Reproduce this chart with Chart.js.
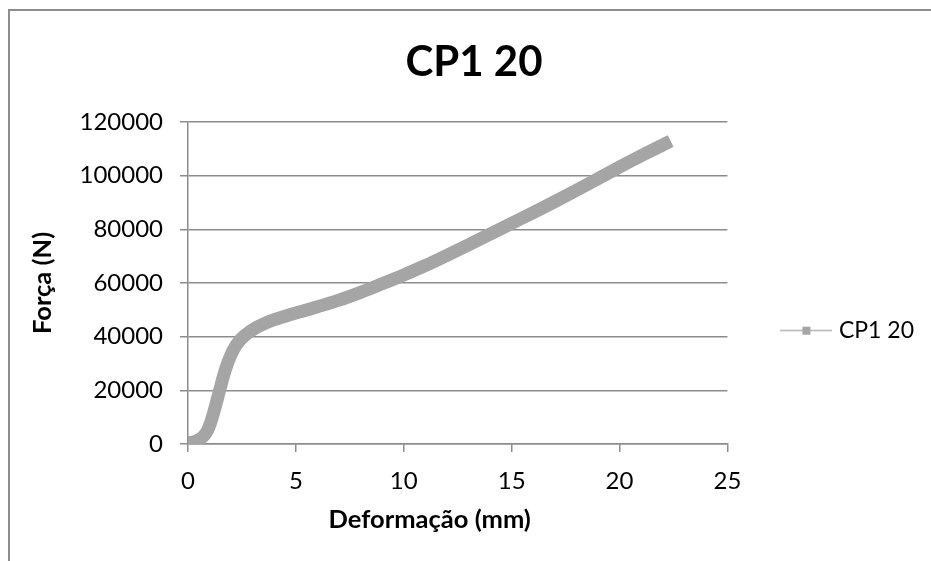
<!DOCTYPE html>
<html>
<head>
<meta charset="utf-8">
<script src="https://cdn.jsdelivr.net/npm/chart.js@4/dist/chart.umd.min.js"></script>
<style>
  html, body { margin: 0; padding: 0; background: #fff; }
  #wrap { width: 931px; height: 561px; position: relative; }
</style>
</head>
<body>
<div id="wrap"><canvas id="grafico" width="931" height="561"></canvas></div>
<script>
// Ensaio CP1 20: força aplicada em função da deformação
const serieNome = 'CP1 20';
const deformacao = [0, 0.15, 0.3, 0.45, 0.6, 0.75, 0.9, 1.05, 1.2, 1.35, 1.5, 1.65, 1.8, 1.95, 2.1, 2.25, 2.4, 2.6, 2.8, 3.0, 3.3, 3.6, 4.0, 4.5, 5.0, 5.5, 6.0, 7.0, 8.0, 9.0, 10.0, 11.0, 12.0, 13.0, 14.0, 15.0, 16.0, 17.0, 18.0, 19.0, 20.0, 21.0, 22.1];
const forca = [400, 600, 900, 1400, 2100, 3200, 5000, 8000, 12000, 16500, 21000, 25500, 29300, 32400, 35000, 37000, 38600, 40200, 41500, 42600, 44000, 45100, 46300, 47600, 48800, 49900, 51100, 53600, 56500, 59700, 63000, 66500, 70300, 74200, 78200, 82200, 86200, 90300, 94500, 98800, 103200, 107400, 111800];
const xTicks = [0, 5, 10, 15, 20, 25];
const yTicks = [0, 20000, 40000, 60000, 80000, 100000, 120000];

const corGrade = '#8c8c8c';
const corSerie = '#a5a5a5';
const deslocTituloX = -28; // título do eixo X deslocado para a esquerda

Chart.defaults.font.family = "Lato, 'Open Sans', sans-serif";
Chart.defaults.color = '#000';

// Moldura cinza da área do gráfico
const moldura = {
  id: 'moldura',
  beforeDraw(chart) {
    const ctx = chart.ctx;
    ctx.save();
    ctx.fillStyle = '#fff';
    ctx.fillRect(0, 0, chart.width, chart.height);
    ctx.fillStyle = '#8d8d8d';
    ctx.fillRect(8, 9, chart.width - 8, 2);
    ctx.fillRect(8, 9, 2, chart.height - 9);
    ctx.restore();
  }
};

// Símbolo da legenda: linha com marcador quadrado
const marcador = document.createElement('canvas');
marcador.width = 52;
marcador.height = 12;
const mctx = marcador.getContext('2d');
mctx.fillStyle = '#b2b2b2';
mctx.fillRect(0, 5, 52, 1.5);
mctx.fillStyle = corSerie;
mctx.fillRect(22, 2, 8, 8);

function ajustarEixoX(s) {
  s.height = 117;
  if (!s._tituloDeslocado) {
    const desenharOriginal = Object.getPrototypeOf(s).drawTitle;
    s.drawTitle = function () {
      this.ctx.save();
      this.ctx.translate(deslocTituloX, 0);
      desenharOriginal.call(this);
      this.ctx.restore();
    };
    s._tituloDeslocado = true;
  }
}

new Chart(document.getElementById('grafico'), {
  type: 'scatter',
  data: {
    datasets: [{
      label: serieNome,
      data: deformacao.map((x, i) => ({ x: x, y: forca[i] })),
      showLine: true,
      borderColor: corSerie,
      backgroundColor: corSerie,
      borderWidth: 13,
      pointRadius: 0,
      borderCapStyle: 'square',
      borderJoinStyle: 'round',
      cubicInterpolationMode: 'monotone'
    }]
  },
  options: {
    responsive: false,
    animation: false,
    layout: { padding: { top: 0, left: 24, right: 7, bottom: 0 } },
    plugins: {
      tooltip: { enabled: false },
      title: {
        display: true,
        text: serieNome,
        color: '#000',
        font: { size: 42, weight: 'bold' },
        padding: { top: 37.5, bottom: 34 }
      },
      legend: {
        position: 'right',
        align: 'center',
        fullSize: false,
        title: { display: true, text: '', padding: { top: 81, bottom: 0 }, font: { size: 12 } },
        labels: {
          usePointStyle: true,
          pointStyle: marcador,
          pointStyleWidth: 42,
          padding: 58,
          color: '#000',
          font: { size: 23 }
        }
      }
    },
    scales: {
      x: {
        type: 'linear',
        min: 0,
        max: 25,
        afterBuildTicks: s => { s.ticks = xTicks.map(v => ({ value: v })); },
        afterFit: ajustarEixoX,
        grid: { drawOnChartArea: false, drawTicks: true, tickLength: 8, color: corGrade, lineWidth: 1.5 },
        border: { color: corGrade, width: 1.5 },
        ticks: { padding: 15, color: '#000', font: { size: 24 }, maxRotation: 0, autoSkip: false, callback: v => String(v) },
        title: { display: true, text: 'Deformação (mm)', color: '#000', font: { size: 25.5, weight: 'bold' }, padding: { top: 0, bottom: 25.5 } }
      },
      y: {
        type: 'linear',
        min: 0,
        max: 120000,
        afterBuildTicks: s => { s.ticks = yTicks.map(v => ({ value: v })); },
        afterFit: s => { s.width = 164; },
        grid: { color: corGrade, lineWidth: 1.5, tickLength: 8 },
        border: { color: corGrade, width: 1.5 },
        ticks: { padding: 17, color: '#000', font: { size: 24 }, callback: v => String(v) },
        title: { display: true, text: 'Força (N)', color: '#000', font: { size: 25.5, weight: 'bold' }, padding: { top: 3.5, bottom: 0 } }
      }
    }
  },
  plugins: [moldura]
});
</script>
</body>
</html>
